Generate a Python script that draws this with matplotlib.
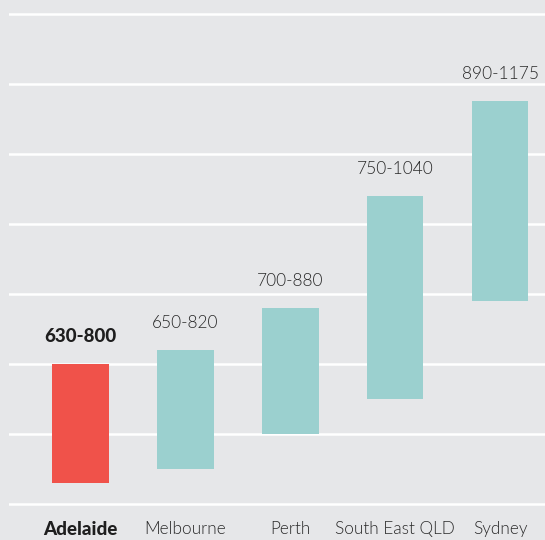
import matplotlib
matplotlib.use("Agg")
import matplotlib.pyplot as plt

cities = ["Adelaide", "Melbourne", "Perth", "South East QLD", "Sydney"]
low = [630, 650, 700, 750, 890]
high = [800, 820, 880, 1040, 1175]
labels = ["630-800", "650-820", "700-880", "750-1040", "890-1175"]
highlight = "Adelaide"

plt.rcParams['font.family'] = ['Lato', 'DejaVu Sans']
bg = "#e6e7e9"
fig = plt.figure(figsize=(5.45, 5.40), dpi=100, facecolor=bg)
ax = fig.add_axes([9/545, 29/540, 536/545, 504/540], facecolor=bg)

colors = ["#f0524a" if c == highlight else "#9bd0cf" for c in cities]
x = list(range(len(cities)))
heights = [h - l for l, h in zip(low, high)]
ax.bar(x, heights, bottom=low, width=0.54, color=colors, zorder=3)

for xi, h, lab, c in zip(x, high, labels, cities):
    hl = c == highlight
    ax.annotate(lab, (xi, h), xytext=(0, 19.5), textcoords="offset points",
                ha="center", va="center", fontsize=13.5 if hl else 12.5,
                color="#1e1e1e" if hl else "#2a2a2a",
                fontweight=900 if hl else 300)

ax.set_xlim(-0.681, 4.429)
ax.set_ylim(590, 1310)
ax.set_yticks(range(600, 1301, 100))
ax.yaxis.grid(True, color="white", linewidth=1.8, zorder=0)
ax.set_axisbelow(True)
ax.tick_params(axis="y", left=False, labelleft=False)
ax.tick_params(axis="x", length=0, pad=7.5)
ax.set_xticks(x)
ax.set_xticklabels(cities, fontsize=12.4, color="#2a2a2a")
for t, c in zip(ax.get_xticklabels(), cities):
    if c == highlight:
        t.set_fontweight(900)
        t.set_fontsize(13.5)
        t.set_color("#1e1e1e")
    else:
        t.set_fontweight(300)
for s in ax.spines.values():
    s.set_visible(False)

fig.savefig("out.png", dpi=100, facecolor=bg)
